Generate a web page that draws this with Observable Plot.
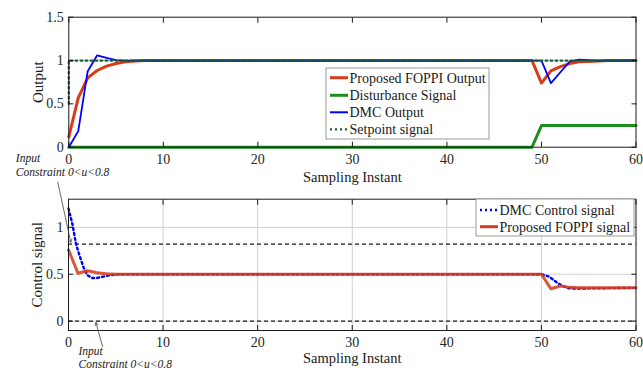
<!DOCTYPE html>
<html><head><meta charset="utf-8">
<script src="https://cdn.jsdelivr.net/npm/d3@7"></script>
<script src="https://cdn.jsdelivr.net/npm/@observablehq/plot@0.6"></script>
<style>
body{margin:0;background:#fff;}
#wrap{position:relative;width:643px;height:370px;overflow:hidden;background:#fff;}
#wrap > svg{position:absolute;left:0;overflow:visible;}
#wrap svg text{font-family:"Liberation Serif","Tinos","Times New Roman","DejaVu Serif",serif !important;}
</style></head><body><div id="wrap"></div>
<script>
// ---------- Data ----------
const xTicks = [0, 10, 20, 30, 40, 50, 60];
const yTicksTop = [0, 0.5, 1, 1.5];
const yTicksBottom = [0, 0.5, 1];

// Top panel: outputs
const foppiOutX = [0, 1, 2, 3, 4, 5, 6, 7, 8, 49, 50, 51, 52, 53, 54, 55, 56, 57, 60];
const foppiOutY = [0.12, 0.57, 0.8, 0.885, 0.935, 0.965, 0.985, 0.995, 1, 1, 0.74, 0.88, 0.93, 0.965, 0.985, 0.99, 0.995, 1, 1];
const dmcOutX = [0, 1, 2, 3, 4, 5, 6, 50, 51, 52, 53, 54, 55, 56, 60];
const dmcOutY = [0, 0.185, 0.877, 1.06, 1.03, 1.005, 1, 1, 0.74, 0.865, 0.99, 1.01, 1.005, 1, 1];
const disturbanceX = [0, 49, 50, 60];
const disturbanceY = [0, 0, 0.25, 0.25];
const setpointX = [0, 0, 60];
const setpointY = [0.5, 1, 1];

// Bottom panel: control signals
const dmcCtrlX = [0, 0.4, 0.8, 1.2, 1.6, 2, 2.5, 3, 3.7, 4.4, 5.5, 50, 50.8, 51.8, 52.8, 53.5, 60];
const dmcCtrlY = [1.2, 1.04, 0.82, 0.69, 0.57, 0.49, 0.46, 0.46, 0.475, 0.49, 0.5, 0.5, 0.475, 0.4, 0.35, 0.347, 0.355];
const foppiCtrlX = [0, 1, 2, 3, 4, 5, 50, 51, 52, 53, 54, 60];
const foppiCtrlY = [0.76, 0.51, 0.537, 0.515, 0.505, 0.5, 0.5, 0.345, 0.375, 0.36, 0.355, 0.355];
const constraintLevels = [0, 0.82];

// Annotation arrows (data coordinates of bottom panel)
const arrowTail = [[-1.13, 1.48], [3.6, -0.27]];
const arrowHead = [[0.24, 0.84], [2.9, -0.015]];

const topLegend = ["Proposed FOPPI Output", "Disturbance Signal", "DMC Output", "Setpoint signal"];
const bottomLegend = ["DMC Control signal", "Proposed FOPPI signal"];

// ---------- Styles ----------
const FONT = '"Liberation Serif","Tinos","Times New Roman","DejaVu Serif",serif';
const RED = "#d93c1a", GREEN = "#1f8c1f", BLUE = "#0000ff", SETPT = "#1b5e36";
const INK = "#1a1a1a";
const pts = (xs, ys) => xs.map((x, i) => ({x, y: ys[i]}));
const wrap = document.getElementById("wrap");
const fontStyle = {fontFamily: FONT, fontSize: "14px", background: "transparent", overflow: "visible", color: INK};
const fmt = d3.format("~g");
const T = {lineAnchor: "middle", fill: INK};
const A = {...T, textAnchor: "start", fontSize: 11.5, fontStyle: "italic"};

const frameAxes = (yTicks) => [
  Plot.frame({stroke: INK, strokeWidth: 1}),
  Plot.axisX(xTicks, {anchor: "bottom", tickSize: -5, tickPadding: 12, label: null, fontSize: 14, fill: "#262626", tickFormat: fmt}),
  Plot.axisX(xTicks, {anchor: "top", tickSize: -5, tickFormat: () => "", label: null}),
  Plot.axisY(yTicks, {anchor: "left", tickSize: -5, tickPadding: 10, label: null, fontSize: 14, fill: "#262626", tickFormat: fmt}),
  Plot.axisY(yTicks, {anchor: "right", tickSize: -5, tickFormat: () => "", label: null})
];

// ---------- Top panel ----------
const topPlot = Plot.plot({
  width: 643, height: 180,
  marginTop: 16.7, marginBottom: 33.3, marginLeft: 68.3, marginRight: 7.5,
  x: {domain: [0, 60]}, y: {domain: [0, 1.5]},
  style: fontStyle,
  marks: [
    Plot.line(pts(foppiOutX, foppiOutY), {x: "x", y: "y", stroke: RED, strokeWidth: 3}),
    Plot.line(pts(disturbanceX, disturbanceY), {x: "x", y: "y", stroke: GREEN, strokeWidth: 3}),
    Plot.line(pts(dmcOutX, dmcOutY), {x: "x", y: "y", stroke: BLUE, strokeWidth: 1.8}),
    Plot.line(pts(setpointX, setpointY), {x: "x", y: "y", stroke: SETPT, strokeWidth: 2.2, strokeDasharray: "2,3"}),
    ...frameAxes(yTicksTop),
    Plot.text(["Sampling Instant"], {...T, frameAnchor: "bottom", dy: 30, fontSize: 14.5}),
    Plot.text(["Output"], {...T, frameAnchor: "left", textAnchor: "middle", rotate: -90, dx: -31, fontSize: 15}),
    Plot.text(["Input"], {...A, frameAnchor: "bottom-left", dx: -53, dy: 11.5}),
    Plot.text(["Constraint 0<u<0.8"], {...A, frameAnchor: "bottom-left", dx: -53, dy: 25.5})
  ]
});
topPlot.style.top = "0px";
wrap.appendChild(topPlot);

// ---------- Bottom panel ----------
const botPlot = Plot.plot({
  width: 643, height: 190,
  marginTop: 18.7, marginBottom: 40, marginLeft: 68, marginRight: 7.5,
  x: {domain: [0, 60]}, y: {domain: [-0.1, 1.3]},
  style: fontStyle,
  marks: [
    Plot.gridX(xTicks.slice(1, -1), {stroke: "#d0d0d0", strokeOpacity: 1}),
    Plot.gridY(yTicksBottom, {stroke: "#d0d0d0", strokeOpacity: 1}),
    Plot.ruleY(constraintLevels, {stroke: INK, strokeWidth: 1.2, strokeDasharray: "4,3"}),
    Plot.line(pts(dmcCtrlX, dmcCtrlY), {x: "x", y: "y", stroke: BLUE, strokeWidth: 2.4, strokeDasharray: "2,3"}),
    Plot.line(pts(foppiCtrlX, foppiCtrlY), {x: "x", y: "y", stroke: RED, strokeWidth: 3, strokeOpacity: 0.88}),
    ...frameAxes(yTicksBottom),
    Plot.arrow(arrowTail.map((t, i) => ({t, h: arrowHead[i]})), {x1: d => d.t[0], y1: d => d.t[1], x2: d => d.h[0], y2: d => d.h[1], stroke: "#444", strokeWidth: 0.8, headLength: 6}),
    Plot.text(["Sampling Instant"], {...T, frameAnchor: "bottom", dy: 28, fontSize: 14.5}),
    Plot.text(["Control signal"], {...T, frameAnchor: "left", textAnchor: "middle", rotate: -90, dx: -31, fontSize: 15}),
    Plot.text(["Input"], {...A, frameAnchor: "bottom-left", dx: 10, dy: 21.3}),
    Plot.text(["Constraint 0<u<0.8"], {...A, frameAnchor: "bottom-left", dx: 10, dy: 34.3})
  ]
});
botPlot.style.top = "180px";
wrap.appendChild(botPlot);

// ---------- Legends (overlay) ----------
const ov = d3.select(wrap).append("svg").attr("width", 643).attr("height", 370).style("top", "0px")
  .attr("font-family", FONT).attr("font-size", 14);

function legend(x, y, w, h, items, styles, rowY) {
  const g = ov.append("g");
  g.append("rect").attr("x", x).attr("y", y).attr("width", w).attr("height", h)
    .attr("fill", "#fff").attr("stroke", "#9a9a9a").attr("stroke-width", 1);
  items.forEach((t, i) => {
    const s = styles[i], cy = rowY[i];
    g.append("line").attr("x1", x + 4).attr("x2", x + 22).attr("y1", cy).attr("y2", cy)
      .attr("stroke", s.stroke).attr("stroke-width", s.width).attr("stroke-dasharray", s.dash || null);
    g.append("text").attr("x", x + 23.5).attr("y", cy).attr("dy", "0.35em").attr("fill", INK).text(t);
  });
}
legend(326, 68, 163, 71, topLegend, [
  {stroke: RED, width: 3}, {stroke: GREEN, width: 3}, {stroke: BLUE, width: 2}, {stroke: SETPT, width: 2.2, dash: "2,3"}
], [77.7, 95.3, 112.3, 129.3]);
legend(476, 199, 158, 37, bottomLegend, [
  {stroke: BLUE, width: 2.4, dash: "2,3"}, {stroke: RED, width: 3}
], [210, 226.7]);
</script></body></html>
